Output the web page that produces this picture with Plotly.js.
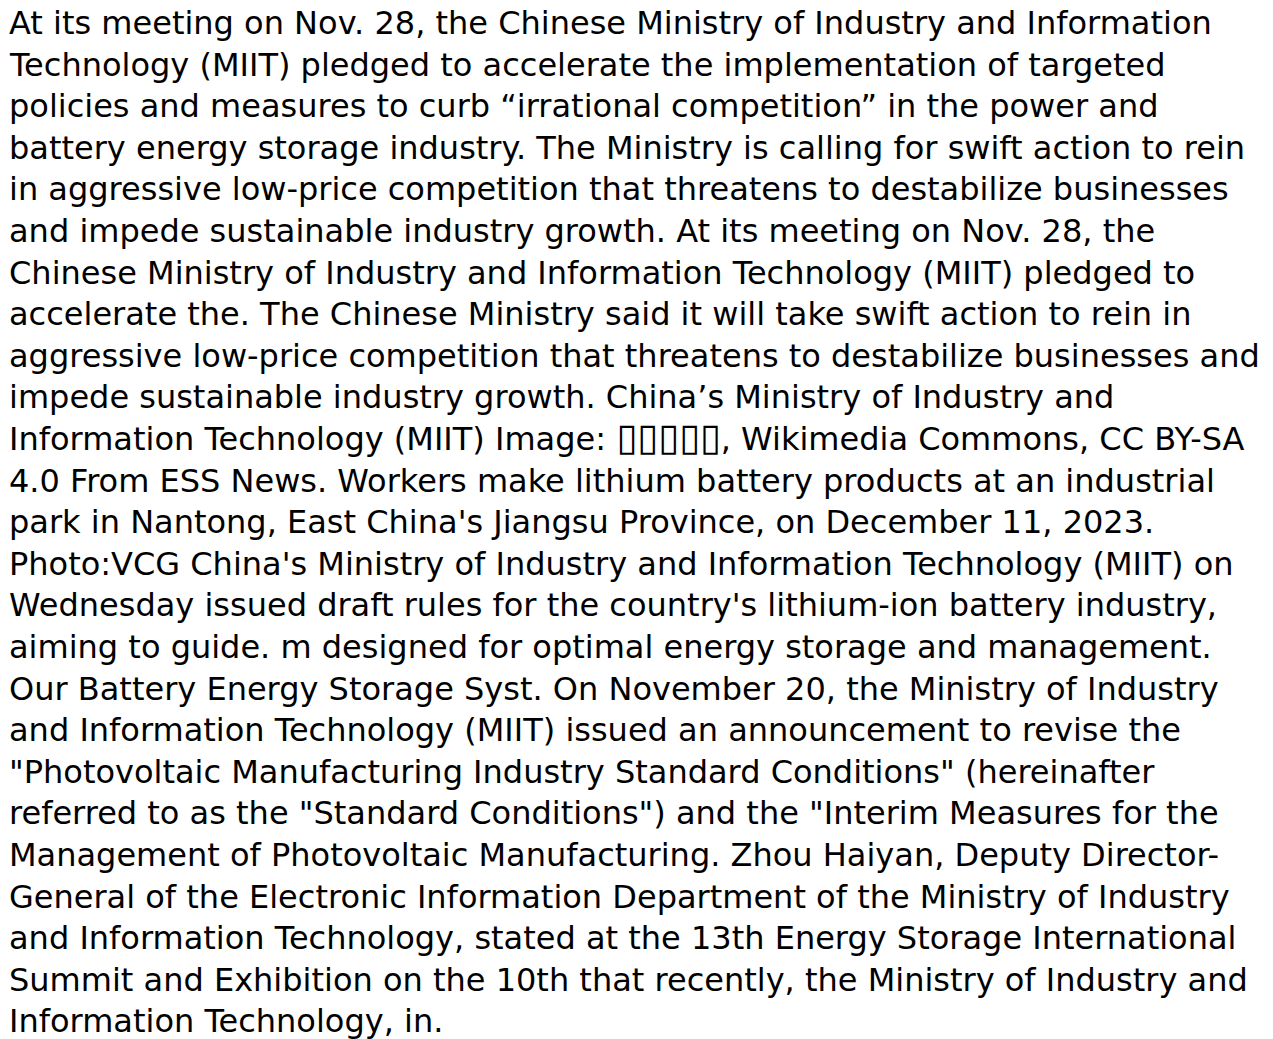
<!DOCTYPE html>
<html>
<head>
<meta charset="utf-8">
<script src="https://cdn.plot.ly/plotly-3.0.1.min.js"></script>
<style>
  html, body { margin: 0; padding: 0; background: #ffffff; }
  #chart { width: 1273px; height: 1039px; }
</style>
</head>
<body>
<div id="chart"></div>
<script>
// Text lines of the reference, one entry per rendered line
const boxes = "\u25AF\u25AF\u25AF\u25AF\u25AF";  // glyphs shown as empty boxes in the reference
const lines = [
  "At its meeting on Nov. 28, the Chinese Ministry of Industry and Information",
  "Technology (MIIT) pledged to accelerate the implementation of targeted",
  "policies and measures to curb \u201cirrational competition\u201d in the power and",
  "battery energy storage industry. The Ministry is calling for swift action to rein",
  "in aggressive low-price competition that threatens to destabilize businesses",
  "and impede sustainable industry growth. At its meeting on Nov. 28, the",
  "Chinese Ministry of Industry and Information Technology (MIIT) pledged to",
  "accelerate the. The Chinese Ministry said it will take swift action to rein in",
  "aggressive low-price competition that threatens to destabilize businesses and",
  "impede sustainable industry growth. China\u2019s Ministry of Industry and",
  "Information Technology (MIIT) Image: " + boxes + ", Wikimedia Commons, CC BY-SA",
  "4.0 From ESS News. Workers make lithium battery products at an industrial",
  "park in Nantong, East China's Jiangsu Province, on December 11, 2023.",
  "Photo:VCG China's Ministry of Industry and Information Technology (MIIT) on",
  "Wednesday issued draft rules for the country's lithium-ion battery industry,",
  "aiming to guide. m designed for optimal energy storage and management.",
  "Our Battery Energy Storage Syst. On November 20, the Ministry of Industry",
  "and Information Technology (MIIT) issued an announcement to revise the",
  "\"Photovoltaic Manufacturing Industry Standard Conditions\" (hereinafter",
  "referred to as the \"Standard Conditions\") and the \"Interim Measures for the",
  "Management of Photovoltaic Manufacturing. Zhou Haiyan, Deputy Director-",
  "General of the Electronic Information Department of the Ministry of Industry",
  "and Information Technology, stated at the 13th Energy Storage International",
  "Summit and Exhibition on the 10th that recently, the Ministry of Industry and",
  "Information Technology, in."
];
const lineIndex = lines.map((_, i) => i);

const W = 1273, H = 1039;
const pitch = 41.6;      // px per line
const firstMid = 23;     // px, middle of first line
const r0 = -firstMid / pitch;
const r1 = r0 + H / pitch;

function fmt(t) {
  return t.replace(boxes, '<span style="font-size:38px">' + boxes + '</span>');
}

const annotations = lines.map((t, i) => ({
  x: 9, y: lineIndex[i], xref: 'x', yref: 'y',
  text: fmt(t), showarrow: false,
  xanchor: 'left', yanchor: 'middle', align: 'left',
  yshift: t.indexOf(boxes) >= 0 ? 2 : 0,
  borderpad: 0, borderwidth: 0,
  font: { family: 'DejaVu Sans', size: 32, color: '#000000' }
}));

const layout = {
  width: W, height: H,
  margin: { l: 0, r: 0, t: 0, b: 0, pad: 0 },
  paper_bgcolor: '#ffffff', plot_bgcolor: '#ffffff',
  showlegend: false,
  xaxis: { range: [0, W], visible: false, fixedrange: true },
  yaxis: { range: [r1, r0], visible: false, fixedrange: true },
  annotations: annotations
};

Plotly.newPlot('chart', [{ x: [], y: [], type: 'scatter', hoverinfo: 'skip' }], layout,
  { displayModeBar: false, staticPlot: true });
</script>
</body>
</html>
